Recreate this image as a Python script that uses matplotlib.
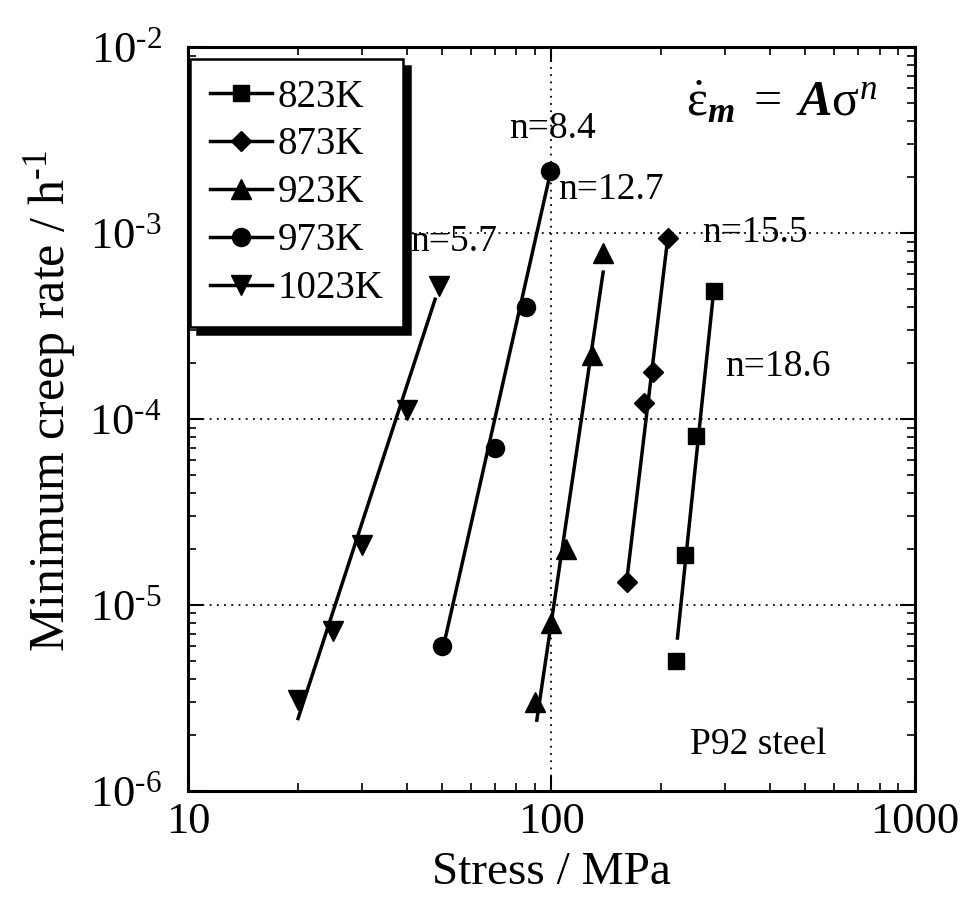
import matplotlib
matplotlib.use("Agg")
import matplotlib.pyplot as plt
from matplotlib.ticker import LogLocator, NullFormatter

plt.rcParams['font.family'] = ['Liberation Serif', 'DejaVu Serif']
plt.rcParams['mathtext.fontset'] = 'custom'
plt.rcParams['mathtext.rm'] = 'Liberation Serif'
plt.rcParams['mathtext.it'] = 'Liberation Serif:italic'
plt.rcParams['mathtext.bf'] = 'Liberation Serif:bold'
plt.rcParams['mathtext.bfit'] = 'Liberation Serif:italic:bold'

# ---- data ----
labels = ['823K', '873K', '923K', '973K', '1023K']
markers = ['s', 'D', '^', 'o', 'v']

x_ticks = [10, 100, 1000]
x_tick_labels = ['10', '100', '1000']
y_ticks = [1e-6, 1e-5, 1e-4, 1e-3, 1e-2]
y_tick_labels = [r'$10^{\text{-6}}$', r'$10^{\text{-5}}$', r'$10^{\text{-4}}$',
                 r'$10^{\text{-3}}$', r'$10^{\text{-2}}$']

stress_823 = [220, 233, 250, 280]
rate_823 = [5.0e-6, 1.85e-5, 8.1e-5, 4.9e-4]
stress_873 = [161, 180, 190, 209]
rate_873 = [1.33e-5, 1.22e-4, 1.8e-4, 9.4e-4]
stress_923 = [90, 100, 110, 129, 139]
rate_923 = [3.0e-6, 8.0e-6, 2.0e-5, 2.2e-4, 7.8e-4]
stress_973 = [50, 70, 85, 99]
rate_973 = [6.0e-6, 7.0e-5, 4.0e-4, 2.15e-3]
stress_1023 = [20, 25, 30, 40, 49]
rate_1023 = [3.1e-6, 7.2e-6, 2.1e-5, 1.12e-4, 5.2e-4]

# fitted-line end points
fit_x_823 = [222, 280]
fit_y_823 = [6.5e-6, 5.0e-4]
fit_x_873 = [161, 209]
fit_y_873 = [1.33e-5, 9.4e-4]
fit_x_923 = [91, 139]
fit_y_923 = [2.35e-6, 6.3e-4]
fit_x_973 = [51, 99]
fit_y_973 = [6.6e-6, 2.05e-3]
fit_x_1023 = [20, 48]
fit_y_1023 = [2.4e-6, 4.5e-4]

n_labels = ['n=18.6', 'n=15.5', 'n=12.7', 'n=8.4', 'n=5.7']

series = [
    (stress_823, rate_823, fit_x_823, fit_y_823),
    (stress_873, rate_873, fit_x_873, fit_y_873),
    (stress_923, rate_923, fit_x_923, fit_y_923),
    (stress_973, rate_973, fit_x_973, fit_y_973),
    (stress_1023, rate_1023, fit_x_1023, fit_y_1023),
]

fig = plt.figure(figsize=(9.7, 9.08), dpi=100)
ax = fig.add_axes([0.194, 0.129, 0.749, 0.819])
ax.set_xscale('log')
ax.set_yscale('log')

msizes = [12, 10, 14, 13, 14]
for (sx, sy, fx, fy), lab, mk, ms in zip(series, labels, markers, msizes):
    ax.plot(fx, fy, color='black', lw=2.5, solid_capstyle='butt')
    ax.plot(sx, sy, linestyle='none', marker=mk, ms=ms, color='black')
    # legend proxy
    ax.plot([], [], color='black', lw=2.5, marker=mk, ms=ms, label=lab)

ax.grid(True, which='major', linestyle=(0, (1, 3)), color='black', lw=1.3)

ax.xaxis.set_minor_locator(LogLocator(base=10, subs=range(2, 10)))
ax.yaxis.set_minor_locator(LogLocator(base=10, subs=range(2, 10)))
ax.xaxis.set_minor_formatter(NullFormatter())
ax.yaxis.set_minor_formatter(NullFormatter())
ax.set_xticks(x_ticks, x_tick_labels)
ax.set_yticks(y_ticks, y_tick_labels)
ax.set_xlim(10, 1000)
ax.set_ylim(1e-6, 1e-2)

ax.tick_params(which='both', direction='in', top=True, right=True)
ax.tick_params(which='major', length=11, width=1.5, labelsize=32)
ax.tick_params(axis='x', which='major', pad=8)
ax.tick_params(axis='y', which='major', pad=19)
ax.tick_params(which='minor', length=6, width=1.2)
for sp in ax.spines.values():
    sp.set_linewidth(2.2)

ax.set_xlabel('Stress / MPa', fontsize=34, labelpad=7)
fig.text(50 / 970, 1 - 401 / 908, 'Minimum creep rate / h$^{\\text{-1}}$',
         fontsize=36, rotation=90, ha='center', va='center')

leg = ax.legend(loc='upper left', bbox_to_anchor=(0.003, 0.984), borderaxespad=0,
                fontsize=28, handlelength=1.6, handletextpad=0.15,
                labelspacing=0.28, borderpad=0.5, fancybox=False,
                framealpha=1, edgecolor='black',
                shadow={'color': 'black', 'alpha': 1, 'ox': 5, 'oy': -5})
leg.get_frame().set_linewidth(1.8)

pos = [(0.812, 0.570), (0.780, 0.751), (0.582, 0.808), (0.502, 0.891), (0.366, 0.738)]
for t, (px, py) in zip(n_labels, pos):
    ax.text(px, py, t, transform=ax.transAxes, fontsize=27, ha='center', va='center')

ax.text(0.817, 0.924,
        r'$\dot{\mathrm{\varepsilon}}_{\mathbfit{m}}\;=\;\mathbfit{A}\mathrm{\sigma}^{\mathit{n}}$',
        transform=ax.transAxes, fontsize=36, ha='center', va='center')
ax.text(0.784, 0.062, 'P92 steel', transform=ax.transAxes, fontsize=27,
        ha='center', va='center')

fig.savefig('out.png', dpi=100)
